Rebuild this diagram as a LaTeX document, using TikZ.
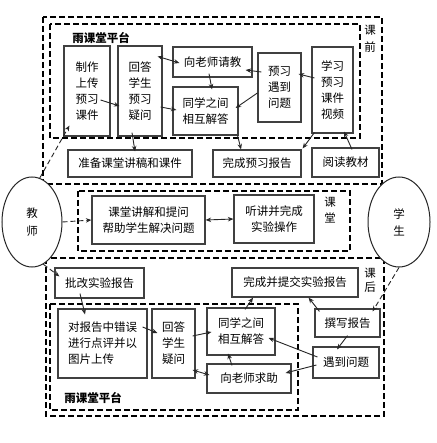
\documentclass[tikz,border=0pt]{standalone}
\usepackage{fontspec}
\setmainfont{Noto Sans CJK SC}
\usetikzlibrary{arrows.meta,shapes.geometric,calc}
\tikzset{
  txt/.style={font=\fontsize{11.5}{16}\selectfont, text=black},
  box/.style={txt, draw=black!75, line width=1.2pt, inner sep=0pt, align=center},
  dbox/.style={draw=black, line width=1.8pt, dash pattern=on 6pt off 3pt},
  oval/.style={txt, ellipse, draw=black!85, line width=1pt, fill=white, inner sep=0pt, align=center, minimum width=60, minimum height=90},
  arr/.style={draw=black!85, line width=0.9pt, -{Stealth[length=5.5pt,width=4.5pt]}},
  barr/.style={draw=black!85, line width=0.9pt, {Stealth[length=5.5pt,width=4.5pt]}-{Stealth[length=5.5pt,width=4.5pt]}},
  darr/.style={arr, dash pattern=on 5pt off 3pt},
  lbl/.style={txt, inner sep=0pt, align=center},
}
\begin{document}
\begin{tikzpicture}[x=1pt,y=-1pt]
\useasboundingbox[fill=white] (0,0) rectangle (436,443);
% dashed frames
\draw[dbox] (43,17) rectangle (382,184);
\draw[dbox] (50,24) rectangle (360,138);
\draw[dbox] (78,191) rectangle (350,251);
\draw[dbox] (46,258) rectangle (384,416);
\draw[dbox] (50,304) rectangle (298,410);
% labels
\node[lbl, font=\fontsize{11.5}{16}\selectfont\bfseries] (t1) at (101,38) {雨课堂平台};
\node[lbl, font=\fontsize{11.5}{16}\selectfont\bfseries] (t2) at (93,398) {雨课堂平台};
\node[lbl, font=\fontsize{11.5}{17}\selectfont] (kq) at (370,38.5) {课\\前};
\node[lbl, font=\fontsize{11.5}{16}\selectfont] (kt) at (330,210) {课\\堂};
\node[lbl, font=\fontsize{11.5}{14}\selectfont] (kh) at (370,280) {课\\后};
% pre-class boxes
\node[box, minimum width=46, minimum height=90] (A) at (87,91) {制作\\上传\\预习\\课件};
\node[box, minimum width=44, minimum height=90] (B) at (140,91) {回答\\学生\\预习\\疑问};
\node[box, minimum width=79, minimum height=30] (C) at (212.5,62) {向老师请教};
\node[box, minimum width=65, minimum height=48] (D) at (205.5,111) {同学之间\\相互解答};
\node[box, minimum width=43, minimum height=69] (E) at (279.5,87.5) {预习\\遇到\\问题};
\node[box, minimum width=41, minimum height=86] (F) at (332.5,90) {学习\\预习\\课件\\视频};
\node[box, minimum width=124, minimum height=27] (G) at (130,163.5) {准备课堂讲稿和课件};
\node[box, minimum width=88, minimum height=27] (H) at (257,163.5) {完成预习报告};
\node[box, minimum width=67, minimum height=29] (I) at (345.5,162.5) {阅读教材};
% in-class boxes
\node[box, minimum width=113, minimum height=48] (J) at (148.5,220) {课堂讲解和提问\\帮助学生解决问题};
\node[box, minimum width=80, minimum height=48] (K) at (274,219) {听讲并完成\\实验操作};
% after-class boxes
\node[box, minimum width=89, minimum height=30] (L) at (99.5,283) {批改实验报告};
\node[box, minimum width=89, minimum height=69, align=left] (M) at (102.5,343.5) {对报告中错误\\进行点评并以\\图片上传\phantom{以以}};
\node[box, minimum width=43, minimum height=69] (N) at (173.5,343.5) {回答\\学生\\疑问};
\node[box, minimum width=68, minimum height=47] (O) at (241,331.5) {同学之间\\相互解答};
\node[box, minimum width=84, minimum height=29] (P) at (249,378.5) {向老师求助};
\node[box, minimum width=126, minimum height=29] (Q) at (295,282.5) {完成并提交实验报告};
\node[box, minimum width=65, minimum height=28] (R) at (347.5,323) {撰写报告};
\node[box, minimum width=66, minimum height=31] (S) at (346,362.5) {遇到问题};
% ellipses
\node[oval, font=\fontsize{11.5}{18}\selectfont] (T) at (32,222) {教\\师};
\node[oval, minimum width=62, font=\fontsize{11.5}{17}\selectfont] (U) at (399,222) {学\\生};
% connectors
\draw[darr] (T.80) -- ($(A.south west)+(6,-11)$);
\draw[arr] ($(A.east)+(-10,9)$) -- ($(B.west)+(2,15)$);
\draw[barr] ($(B.north east)+(-5,11)$) -- ($(C.west)+(7,1)$);
\draw[arr] ($(B.east)+(-2,16)$) -- ($(D.west)+(4,-1)$);
\draw[arr] ($(C.south)+(-3.5,-4)$) -- ($(D.north)+(6.5,3)$);
\draw[arr] ($(B.south)+(-8,-4)$) -- ($(G.north)+(5,2)$);
\draw[arr] ($(E.west)+(4,-15.5)$) -- ($(C.east)+(-7,8)$);
\draw[arr] ($(E.west)+(0,5.5)$) -- ($(D.east)+(-3,-3)$);
\draw[arr] ($(F.west)+(3,-12)$) -- ($(E.east)+(-3,-13.5)$);
\draw[arr] ($(D.south east)+(-1,0)$) -- ($(H.north)+(-16,0)$);
\draw[arr] ($(F.south west)+(3,-1)$) -- ($(H.north east)+(1,-1)$);
\draw[arr] ($(I.north)+(6.5,2)$) -- ($(F.south)+(11.5,-2)$);
\draw[darr] (T.east) -- (J.west);
\draw[barr] (J.east) -- (K.west);
\draw[darr] (T.-75) -- ($(L.north west)+(5,9)$);
\draw[arr] ($(L.south)+(-19.5,-5)$) -- ($(M.north)+(-17.5,6)$);
\draw[arr] ($(M.east)+(-5,-16.5)$) -- ($(N.west)+(6,-10.5)$);
\draw[arr] ($(N.east)+(-3,-7.5)$) -- ($(O.west)+(5,0.5)$);
\draw[barr] ($(N.east)+(-3,26.5)$) -- ($(P.west)+(3,-3.5)$);
\draw[arr] ($(O.north)+(4,2)$) -- ($(Q.south)+(-42,0)$);
\draw[arr] ($(R.north west)+(5,3)$) -- ($(Q.south east)+(-50,0)$);
\draw[arr] ($(R.south)+(0,-2)$) -- ($(S.north)+(-9,3)$);
\draw[arr] ($(S.west)+(5,-5.5)$) -- ($(O.east)+(-7,6.5)$);
\draw[arr] ($(S.west)+(4,2.5)$) -- ($(P.east)+(-6,-5.5)$);
\draw[arr] ($(P.north)+(-17,2)$) -- ($(O.south)+(-13,-2)$);
\draw[darr] (U.south) -- ($(R.north east)+(-8,3)$);
\end{tikzpicture}
\end{document}
